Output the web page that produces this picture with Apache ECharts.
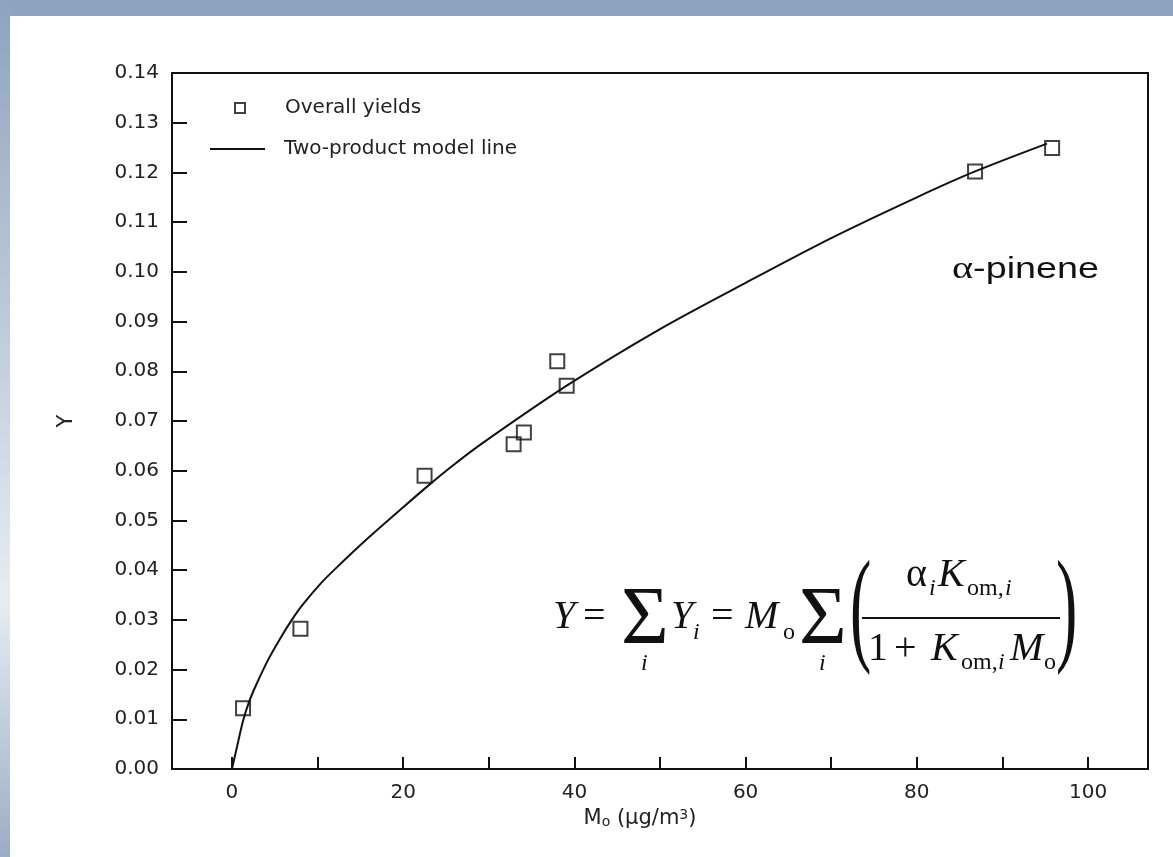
<!DOCTYPE html>
<html>
<head>
<meta charset="utf-8">
<title>alpha-pinene yields</title>
<script src="https://cdn.jsdelivr.net/npm/echarts@6/dist/echarts.min.js"></script>
<style>
  html, body { margin: 0; padding: 0; background: #fff; }
  #chart { width: 1173px; height: 857px; }
</style>
</head>
<body>
<div id="chart"></div>
<script>
// measured yields (squares)
const yieldX = [1.3, 8.0, 22.5, 32.9, 34.1, 38.0, 39.1, 86.8, 95.8];
const yieldY = [0.0122, 0.0282, 0.059, 0.0653, 0.0677, 0.082, 0.0771, 0.1202, 0.1249];

// two-product model curve
const modelX = [0, 0.6, 1.3, 2.0, 2.8, 4.3, 5.9, 7.0, 8.2, 10.2, 12.1, 16.0, 19.9, 23.0, 25.4, 28.9, 39.1, 50, 60, 70, 80, 86.8, 95.2];
const modelY = [0, 0.0045, 0.0097, 0.0135, 0.0168, 0.0222, 0.027, 0.03, 0.0329, 0.037, 0.0403, 0.0466, 0.0525, 0.0571, 0.0605, 0.0651, 0.0771, 0.0885, 0.0978, 0.1068, 0.115, 0.1202, 0.1258];

// axis ticks and labels
const xLabelValues = [0, 20, 40, 60, 80, 100];
const xTickValues = [0, 10, 20, 30, 40, 50, 60, 70, 80, 90, 100];

const INK = "#111";
const SANS = "DejaVu Sans";
const SERIF = "Liberation Serif";

// formula text piece, placed by its baseline
function piece(text, x, baseline, size, italic, extra) {
  return Object.assign(
    {
      type: "text",
      x: x,
      y: baseline - 0.32 * size,
      silent: true,
      style: {
        text: text,
        fontFamily: SERIF,
        fontSize: size,
        fontStyle: italic ? "italic" : "normal",
        fill: INK,
        textVerticalAlign: "middle",
      },
    },
    extra || {}
  );
}

const B = 630; // main formula baseline
const formula = [
  piece("Y", 553, B, 40, true),
  piece("=", 583, B, 40, false),
  piece("Σ", 621, 648, 82, false),
  piece("i", 641, 671, 24, true),
  piece("Y", 671, B, 40, true),
  piece("i", 693, 640, 24, true),
  piece("=", 711, B, 40, false),
  piece("M", 745, B, 40, true),
  piece("o", 783, 640, 24, false),
  piece("Σ", 799, 648, 82, false),
  piece("i", 819, 671, 24, true),
  piece("(", 850, 655, 128, false, { scaleX: 0.5 }),
  // numerator
  piece("α", 906, 588, 40, false),
  piece("i", 929, 596, 24, true),
  piece("K", 938, 588, 40, true),
  piece("om,", 967, 596, 24, false),
  piece("i", 1005, 596, 24, true),
  // denominator
  piece("1", 868, 662, 40, false),
  piece("+", 894, 662, 40, false),
  piece("K", 931, 662, 40, true),
  piece("om,", 961, 670, 24, false),
  piece("i", 998, 670, 24, true),
  piece("M", 1010, 662, 40, true),
  piece("o", 1044, 670, 24, false),
  piece(")", 1056, 655, 128, false, { scaleX: 0.5 }),
  {
    type: "line",
    silent: true,
    shape: { x1: 862, y1: 618, x2: 1060, y2: 618 },
    style: { stroke: INK, lineWidth: 2 },
  },
];

const chart = echarts.init(document.getElementById("chart"));
chart.setOption({
  backgroundColor: "#fff",
  animation: false,
  grid: {
    left: 172,
    right: 25,
    top: 73,
    bottom: 88,
    show: true,
    borderColor: INK,
    borderWidth: 2,
  },
  legend: [
    {
      data: ["Overall yields"],
      left: 234,
      top: 98,
      padding: 0,
      itemWidth: 10,
      itemHeight: 10,
      textStyle: { fontFamily: SANS, fontSize: 20, color: "#222", padding: [0, 0, 0, 35] },
    },
    {
      data: [{ name: "Two-product model line", icon: "rect" }],
      left: 210,
      top: 139,
      padding: 0,
      itemWidth: 55,
      itemHeight: 2,
      textStyle: { fontFamily: SANS, fontSize: 20, color: "#222", padding: [0, 0, 0, 14] },
    },
  ],
  xAxis: {
    type: "value",
    min: -7,
    max: 107,
    name: "M{sub|o} (μg/m{sup|3})",
    nameLocation: "middle",
    nameGap: 31,
    nameTextStyle: {
      fontFamily: SANS,
      fontSize: 21,
      color: "#222",
      padding: [0, 40, 0, 0],
      rich: {
        sub: { fontFamily: SANS, fontSize: 14, color: "#222", verticalAlign: "bottom", lineHeight: 14 },
        sup: { fontFamily: SANS, fontSize: 14, color: "#222", verticalAlign: "top", lineHeight: 14 },
      },
    },
    axisLine: { show: true, onZero: false, lineStyle: { color: INK, width: 2 } },
    axisTick: {
      show: true,
      inside: true,
      length: 12,
      customValues: xTickValues,
      lineStyle: { color: INK, width: 2 },
    },
    axisLabel: {
      customValues: xLabelValues,
      margin: 14,
      fontFamily: SANS,
      fontSize: 20,
      color: "#222",
    },
    splitLine: { show: false },
  },
  yAxis: {
    type: "value",
    min: 0,
    max: 0.14,
    interval: 0.01,
    name: "Y",
    nameLocation: "middle",
    nameRotate: 90,
    nameGap: 95,
    nameMoveOverlap: false,
    nameTextStyle: { fontFamily: SANS, fontSize: 21, color: "#222" },
    axisLine: { show: true, onZero: false, lineStyle: { color: INK, width: 2 } },
    axisTick: { show: true, inside: true, length: 15, lineStyle: { color: INK, width: 2 } },
    axisLabel: {
      margin: 13,
      fontFamily: SANS,
      fontSize: 20,
      color: "#222",
      formatter: (v) => v.toFixed(2),
    },
    splitLine: { show: false },
  },
  series: [
    {
      name: "Two-product model line",
      type: "line",
      data: modelX.map((x, i) => [x, modelY[i]]),
      showSymbol: false,
      symbol: "none",
      smooth: 0.3,
      lineStyle: { color: INK, width: 2 },
      itemStyle: { color: INK },
      z: 2,
    },
    {
      name: "Overall yields",
      type: "scatter",
      data: yieldX.map((x, i) => [x, yieldY[i]]),
      symbol: "rect",
      symbolSize: 14,
      itemStyle: { color: "rgba(255,255,255,0)", borderColor: INK, borderWidth: 2 },
      z: 3,
    },
  ],
  graphic: [
    // slide frame strips
    {
      type: "rect",
      silent: true,
      shape: { x: 0, y: 0, width: 1173, height: 16 },
      style: { fill: "#8ea3bf" },
    },
    {
      type: "rect",
      silent: true,
      shape: { x: 0, y: 0, width: 10, height: 857 },
      style: {
        fill: new echarts.graphic.LinearGradient(0, 0, 0, 1, [
          { offset: 0, color: "#8ea3bf" },
          { offset: 0.7, color: "#e8ecf2" },
          { offset: 1, color: "#9aadc6" },
        ]),
      },
    },
    {
      type: "text",
      x: 952,
      y: 270,
      scaleX: 1.3,
      silent: true,
      style: {
        text: "{a|α}-pinene",
        fontFamily: "Liberation Sans",
        fontSize: 29,
        fill: INK,
        textVerticalAlign: "middle",
        rich: { a: { fontFamily: SERIF, fontSize: 31, fill: INK } },
      },
    },
  ].concat(formula),
});
</script>
</body>
</html>
